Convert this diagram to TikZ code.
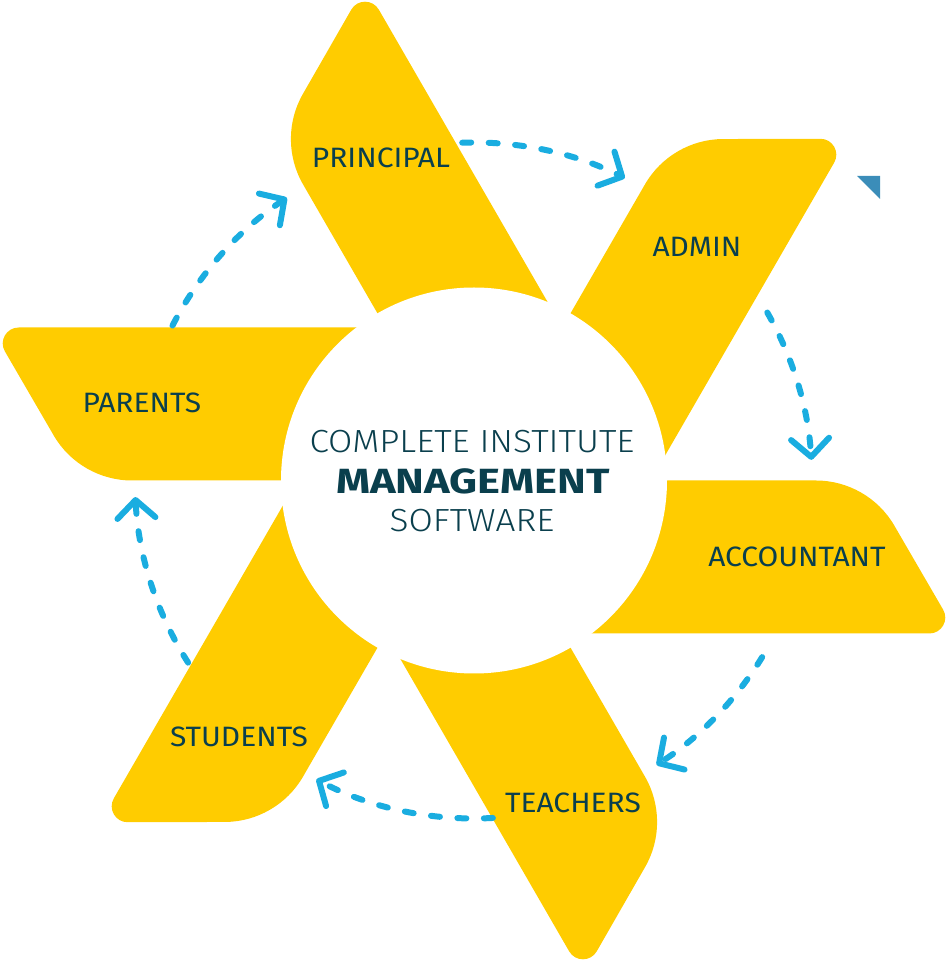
\documentclass[tikz,border=0pt]{standalone}
\usepackage{fontspec}
\setmainfont{Fira Sans}
\newfontfamily\lblfont{Fira Sans}[FakeStretch=1.07]
\newfontfamily\lightfont{Fira Sans Light}[FakeStretch=1.1]
\newfontfamily\heavyfont{Fira Sans}[FakeStretch=1.24]
\usetikzlibrary{arrows.meta}
\definecolor{petal}{HTML}{FFCC00}
\definecolor{textc}{HTML}{0A3F4D}
\definecolor{arrowc}{HTML}{1AADE0}
\definecolor{trianglec}{HTML}{3B8DB9}
\begin{document}
\begin{tikzpicture}[x=1pt,y=1pt,
  flow/.style={draw=arrowc, line width=6pt, line cap=round,
    dash pattern=on 9pt off 17.5pt,
    -{Straight Barb[length=18pt,width=38pt,round]}},
  lbl/.style={text=textc, font=\lblfont\fontsize{28}{30}\selectfont, inner sep=0pt},
  ctext/.style={text=textc, inner sep=0pt}]
\useasboundingbox (0,0) rectangle (946,962);
\coordinate (C) at (474,481.5);
% petals
\foreach \a in {0,60,...,300} {
  \fill[petal, shift={(C)}, rotate=\a]
    (0,0) -- (342,0) .. controls (374.1,0) and (404.1,-17.2) .. (420.2,-44.9)
    -- (469.1,-129.1) .. controls (475.3,-139.7) and (467.6,-153) .. (455.3,-153)
    -- (0,-153) -- cycle;
}
% hub
\node[circle, fill=white, minimum size=386pt, inner sep=0pt] (hub) at (C) {};
% small triangle
\fill[trianglec] (857,786) -- (880,786) -- (880,763) -- cycle;
% labels
\node[lbl] (principal) at (381,804) {PRINCIPAL};
\node[lbl] (admin) at (697,715) {ADMIN};
\node[lbl] (parents) at (142,559) {PARENTS};
\node[lbl] (accountant) at (797,405) {ACCOUNTANT};
\node[lbl] (students) at (239,225) {STUDENTS};
\node[lbl] (teachers) at (573,159) {TEACHERS};
\node[ctext, font=\lightfont\fontsize{32}{36}\selectfont] (t1) at (472,520) {COMPLETE INSTITUTE};
\node[ctext, font=\heavyfont\bfseries\fontsize{35}{40}\selectfont] (t2) at (473,481) {MANAGEMENT};
\node[ctext, font=\lightfont\fontsize{32}{36}\selectfont] (t3) at (472,441) {SOFTWARE};
% flow arrows
\coordinate (f1) at ([shift={(92:338)}]C);
\coordinate (f2) at ([shift={(29.8:338)}]C);
\coordinate (f3) at ([shift={(-31.5:338)}]C);
\coordinate (f4) at ([shift={(-86.8:338)}]C);
\coordinate (f5) at ([shift={(-147.5:339)}]C);
\coordinate (f6) at ([shift={(152.8:339)}]C);
\draw[flow] (f1) arc[start angle=92, end angle=63.5, radius=338];
\draw[flow] (f2) arc[start angle=29.8, end angle=3.5, radius=338];
\draw[flow] (f3) arc[start angle=-31.5, end angle=-57.3, radius=338];
\draw[flow] (f4) arc[start angle=-86.8, end angle=-117.8, radius=338];
\draw[flow] (f5) arc[start angle=-147.5, end angle=-177.2, radius=339];
\draw[flow] (f6) arc[start angle=152.8, end angle=123.5, radius=339];
\end{tikzpicture}
\end{document}
